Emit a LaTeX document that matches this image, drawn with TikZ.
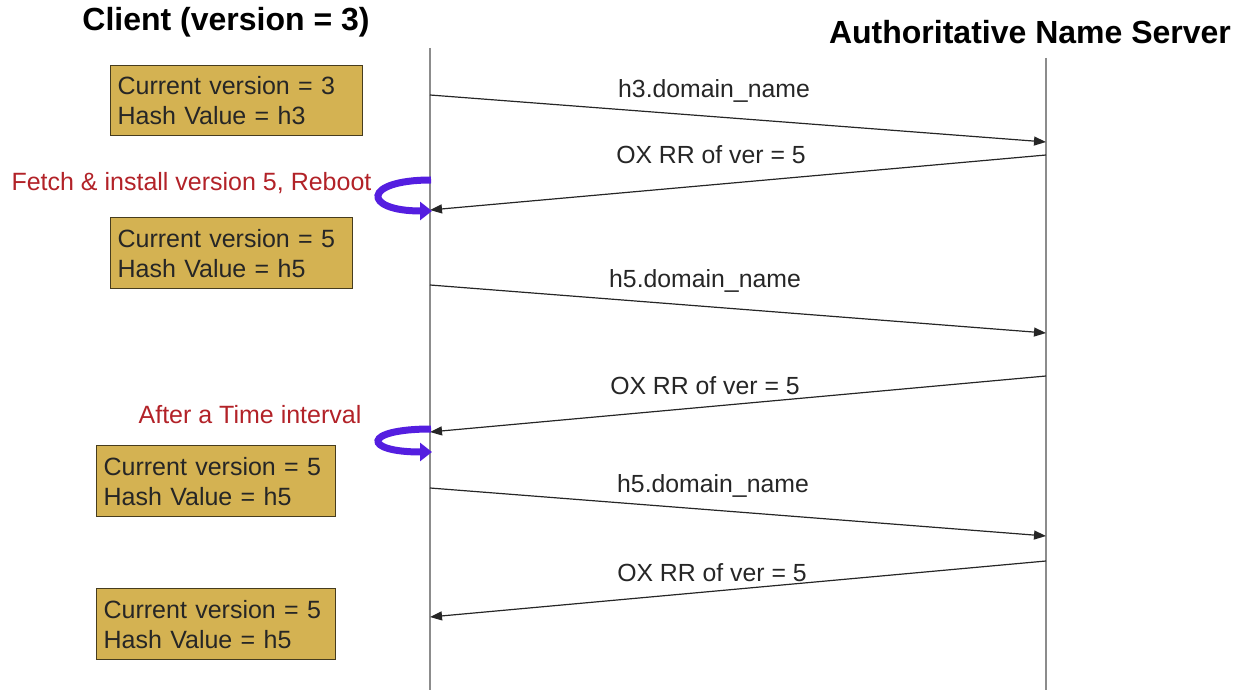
\documentclass[tikz,border=0pt]{standalone}
\usepackage{fontspec}
\setmainfont{Liberation Sans}
\usetikzlibrary{arrows.meta}
\definecolor{boxfill}{RGB}{212,178,82}
\definecolor{boxline}{RGB}{70,60,30}
\definecolor{notered}{RGB}{178,34,40}
\definecolor{curlblue}{RGB}{84,30,224}
\definecolor{lifegray}{RGB}{140,140,140}
\tikzset{
  statebox/.style={draw=boxline, line width=1.2pt, fill=boxfill, align=left,
    anchor=north west, inner xsep=7pt, inner ysep=3pt,
    font=\fontsize{25}{30}\selectfont, text=black!85},
  title/.style={font=\fontsize{32}{36}\selectfont\bfseries},
  msg/.style={draw=black!85, line width=1.2pt, -{Triangle[length=12pt,width=9pt]}},
  msglabel/.style={font=\fontsize{24.8}{28}\selectfont, text=black!85},
  note/.style={font=\fontsize{25}{29}\selectfont, text=notered},
  lifeline/.style={draw=lifegray, line width=2pt},
  curl/.style={draw=curlblue, line width=7pt, line cap=butt,
    -{Triangle[length=12pt,width=18pt]}}
}
\begin{document}
\begin{tikzpicture}[x=1pt,y=-1pt]
\useasboundingbox (0,0) rectangle (1249,692);

% titles
\node[title] (ctitle) at (226,22) {Client (version = 3)};
\node[title] (stitle) at (1030,32) {Authoritative Name Server};

% lifelines
\coordinate (ctop) at (430,48);
\coordinate (cbot) at (430,690);
\coordinate (stop) at (1046,58);
\coordinate (sbot) at (1046,690);
\draw[lifeline] (ctop) -- (cbot);
\draw[lifeline] (stop) -- (sbot);

% client state boxes
\node[statebox, text width=238pt, minimum height=70pt] (b1) at (110,65)
  {Current version = 3\\Hash Value = h3};
\node[statebox, text width=228pt, minimum height=71pt] (b2) at (110,217)
  {Current version = 5\\Hash Value = h5};
\node[statebox, text width=225pt, minimum height=71pt] (b3) at (96,445)
  {Current version = 5\\Hash Value = h5};
\node[statebox, text width=225pt, minimum height=71pt] (b4) at (96,588)
  {Current version = 5\\Hash Value = h5};

% message end points on the lifelines
\coordinate (c1) at (430,95);   \coordinate (s1) at (1046,142);
\coordinate (s2) at (1046,155); \coordinate (c2) at (430,210);
\coordinate (c3) at (430,285);  \coordinate (s3) at (1046,333);
\coordinate (s4) at (1046,376); \coordinate (c4) at (430,432);
\coordinate (c5) at (430,488);  \coordinate (s5) at (1046,536);
\coordinate (s6) at (1046,561); \coordinate (c6) at (430,617);

\draw[msg] (c1) -- (s1);
\draw[msg] (s2) -- (c2);
\draw[msg] (c3) -- (s3);
\draw[msg] (s4) -- (c4);
\draw[msg] (c5) -- (s5);
\draw[msg] (s6) -- (c6);

\node[msglabel] (m1) at (714,91)  {h3.domain\_name};
\node[msglabel] (m2) at (711,155) {OX RR of ver = 5};
\node[msglabel] (m3) at (705,281) {h5.domain\_name};
\node[msglabel] (m4) at (705,386) {OX RR of ver = 5};
\node[msglabel] (m5) at (713,486) {h5.domain\_name};
\node[msglabel] (m6) at (712,573) {OX RR of ver = 5};

% client-side notes
\node[note, anchor=west] (n1) at (8,183) {Fetch \& install version 5, Reboot};
\node[note] (n2) at (250,415) {After a Time interval};

% self-loops on the client lifeline
\coordinate (l1a) at (431,180); \coordinate (l1b) at (432,211);
\coordinate (l2a) at (431,429); \coordinate (l2b) at (432,452);
\draw[curl] (l1a) .. controls (362,180) and (362,211) .. (l1b);
\draw[curl] (l2a) .. controls (362,429) and (362,452) .. (l2b);
\end{tikzpicture}
\end{document}
